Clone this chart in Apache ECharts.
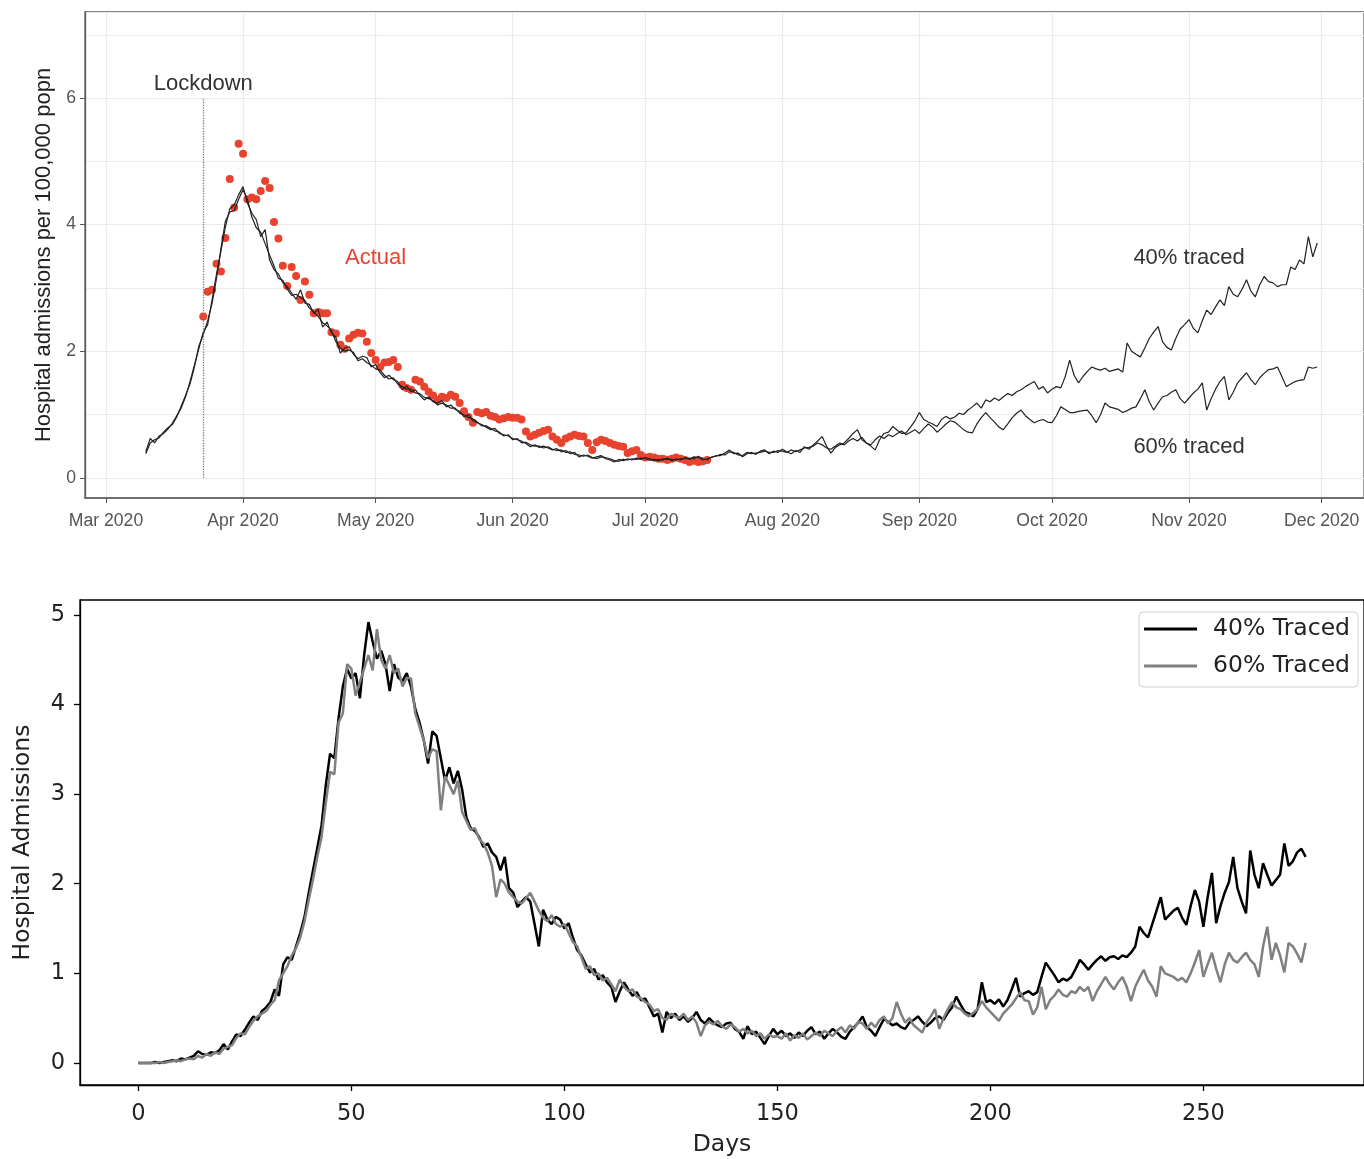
<!DOCTYPE html>
<html>
<head>
<meta charset="utf-8">
<title>Hospital admissions</title>
<script src="https://cdn.jsdelivr.net/npm/echarts@6/dist/echarts.min.js"></script>
<style>
  html, body { margin: 0; padding: 0; background: #fff; }
  #chart { width: 1364px; height: 1159px; }
</style>
</head>
<body>
<div id="chart"></div>
<script>
// ---- top panel: daily values, starting at the given dates (year, month index, day)
var lockdownDate = [2020, 2, 23];
var actualStart = [2020, 2, 23];
var actual = [
  2.55, 2.94, 2.97, 3.38, 3.26, 3.79, 4.72, 4.27, 5.28,
  5.12, 4.40, 4.43, 4.40, 4.53, 4.69, 4.58, 4.04, 3.78, 3.35,
  3.03, 3.33, 3.19, 2.81, 3.10, 2.89, 2.60, 2.62, 2.60, 2.60,
  2.30, 2.28, 2.10, 2.04, 2.20, 2.26, 2.29, 2.28, 2.15, 1.97,
  1.86, 1.75, 1.82, 1.83, 1.86, 1.75, 1.47, 1.42, 1.39, 1.55,
  1.52, 1.44, 1.36, 1.30, 1.23, 1.28, 1.26, 1.31, 1.28, 1.18,
  1.05, 0.96, 0.87, 1.04, 1.02, 1.04, 0.98, 0.96, 0.92, 0.94, 0.96,
  0.95, 0.95, 0.92, 0.73, 0.65, 0.68, 0.71, 0.74, 0.76, 0.65,
  0.60, 0.55, 0.62, 0.65, 0.68, 0.66, 0.65, 0.55, 0.44, 0.56,
  0.60, 0.58, 0.55, 0.52, 0.50, 0.49, 0.39, 0.42, 0.44, 0.36,
  0.32, 0.33, 0.32, 0.30, 0.30, 0.28, 0.30, 0.32, 0.30, 0.28,
  0.25, 0.27, 0.25, 0.26, 0.28
];
var lineStart = [2020, 2, 10];
var traced40 = [
  0.41, 0.62, 0.55, 0.66, 0.70, 0.77, 0.86, 0.98, 1.10, 1.28,
  1.52, 1.78, 2.04, 2.30, 2.42, 2.81, 3.22, 3.58, 3.96, 4.25,
  4.31, 4.47, 4.60, 4.34, 4.18, 4.08, 3.81, 3.92, 3.44, 3.29,
  3.22, 3.08, 3.02, 2.92, 2.82, 2.97, 2.76, 2.74, 2.60, 2.66,
  2.38, 2.46, 2.29, 2.22, 1.97, 2.05, 2.07, 1.95, 1.88, 1.92,
  1.90, 1.75, 1.79, 1.66, 1.58, 1.62, 1.55, 1.52, 1.39, 1.45,
  1.36, 1.39, 1.30, 1.23, 1.28, 1.20, 1.18, 1.22, 1.12, 1.15,
  1.08, 1.05, 0.96, 1.00, 0.90, 0.87, 0.84, 0.80, 0.76, 0.78,
  0.70, 0.68, 0.66, 0.62, 0.60, 0.58, 0.54, 0.49, 0.52, 0.48,
  0.50, 0.47, 0.44, 0.46, 0.41, 0.43, 0.38, 0.40, 0.33, 0.36,
  0.34, 0.31, 0.33, 0.35, 0.30, 0.28, 0.25, 0.29, 0.27, 0.30,
  0.28, 0.31, 0.29, 0.32, 0.30, 0.27, 0.29, 0.28, 0.31, 0.27,
  0.30, 0.28, 0.32, 0.29, 0.33, 0.32, 0.28, 0.30, 0.32, 0.35,
  0.35, 0.39, 0.44, 0.38, 0.39, 0.33, 0.38, 0.40, 0.37, 0.42,
  0.44, 0.38, 0.42, 0.40, 0.45, 0.41, 0.38, 0.43, 0.40, 0.49,
  0.45, 0.52, 0.58, 0.65, 0.50, 0.39, 0.48, 0.52, 0.55, 0.62,
  0.70, 0.76, 0.60, 0.55, 0.50, 0.44, 0.60, 0.70, 0.72, 0.81,
  0.75, 0.70, 0.71, 0.80, 0.90, 1.03, 0.92, 0.88, 0.85, 0.81,
  0.92, 0.97, 0.93, 0.96, 1.02, 1.00, 1.07, 1.12, 1.18, 1.10,
  1.23, 1.20, 1.26, 1.22, 1.28, 1.33, 1.30, 1.36, 1.39, 1.44,
  1.48, 1.52, 1.40, 1.44, 1.34, 1.40, 1.44, 1.42, 1.60, 1.86,
  1.62, 1.50, 1.60, 1.68, 1.75, 1.72, 1.70, 1.73, 1.68, 1.70,
  1.72, 1.67, 2.13, 2.00, 1.95, 1.91, 2.05, 2.20, 2.30, 2.39,
  2.15, 2.06, 2.02, 2.20, 2.35, 2.42, 2.50, 2.36, 2.29, 2.48,
  2.65, 2.58, 2.70, 2.81, 2.72, 3.02, 2.90, 2.86, 2.98, 3.13,
  2.95, 2.86, 3.05, 3.18, 3.10, 3.08, 3.02, 3.05, 3.05, 3.33,
  3.29, 3.44, 3.38, 3.81, 3.49, 3.71
];
var traced60 = [
  0.38, 0.55, 0.60, 0.63, 0.72, 0.79, 0.84, 0.96, 1.13, 1.30,
  1.48, 1.75, 2.08, 2.26, 2.48, 2.76, 3.15, 3.62, 4.05, 4.20,
  4.22, 4.40, 4.55, 4.40, 4.12, 3.95, 3.88, 3.70, 3.52, 3.35,
  3.15, 3.12, 2.98, 2.88, 2.90, 2.85, 2.80, 2.68, 2.62, 2.55,
  2.45, 2.40, 2.33, 2.15, 2.05, 2.00, 2.02, 1.98, 1.85, 1.88,
  1.82, 1.78, 1.72, 1.70, 1.62, 1.56, 1.58, 1.48, 1.44, 1.40,
  1.40, 1.34, 1.33, 1.27, 1.25, 1.22, 1.15, 1.18, 1.15, 1.10,
  1.10, 1.02, 0.99, 0.95, 0.93, 0.88, 0.82, 0.82, 0.78, 0.74,
  0.72, 0.66, 0.68, 0.60, 0.62, 0.55, 0.56, 0.52, 0.50, 0.50,
  0.47, 0.49, 0.45, 0.43, 0.44, 0.40, 0.41, 0.37, 0.36, 0.34,
  0.36, 0.32, 0.30, 0.33, 0.32, 0.30, 0.27, 0.26, 0.29, 0.28,
  0.30, 0.29, 0.31, 0.30, 0.28, 0.29, 0.27, 0.30, 0.29, 0.29,
  0.28, 0.30, 0.30, 0.31, 0.30, 0.34, 0.30, 0.28, 0.33, 0.34,
  0.37, 0.36, 0.41, 0.40, 0.36, 0.35, 0.40, 0.38, 0.39, 0.40,
  0.42, 0.40, 0.40, 0.43, 0.42, 0.40, 0.44, 0.41, 0.44, 0.47,
  0.48, 0.50, 0.55, 0.52, 0.47, 0.45, 0.50, 0.55, 0.52, 0.58,
  0.62, 0.58, 0.64, 0.55, 0.52, 0.60, 0.66, 0.62, 0.68, 0.65,
  0.70, 0.74, 0.68, 0.72, 0.76, 0.70, 0.78, 0.85, 0.80, 0.72,
  0.78, 0.85, 0.90, 0.88, 0.82, 0.76, 0.72, 0.71, 0.85, 0.95,
  1.03, 0.95, 0.88, 0.80, 0.76, 0.85, 0.95, 1.02, 1.07, 0.98,
  0.92, 0.87, 0.90, 0.92, 0.88, 0.87, 0.98, 1.12, 1.08, 1.03,
  1.03, 1.05, 1.06, 1.07, 0.98, 0.87, 1.00, 1.18, 1.12, 1.10,
  1.08, 1.03, 1.06, 1.10, 1.12, 1.25, 1.39, 1.20, 1.07, 1.18,
  1.28, 1.30, 1.35, 1.39, 1.25, 1.18, 1.26, 1.34, 1.40, 1.50,
  1.07, 1.25, 1.40, 1.52, 1.60, 1.23, 1.35, 1.50, 1.58, 1.66,
  1.55, 1.47, 1.58, 1.65, 1.71, 1.72, 1.75, 1.60, 1.44, 1.48,
  1.52, 1.54, 1.55, 1.75, 1.73, 1.75
];
var monthNames = ['Jan', 'Feb', 'Mar', 'Apr', 'May', 'Jun', 'Jul', 'Aug', 'Sep', 'Oct', 'Nov', 'Dec'];
var topYTicks = [0, 2, 4, 6];

// ---- bottom panel: daily values from day 0
var days40 = [
  0.00, 0.00, 0.00, 0.00, 0.01, 0.00, 0.01, 0.02, 0.03, 0.02,
  0.05, 0.04, 0.06, 0.08, 0.13, 0.10, 0.09, 0.12, 0.11, 0.14,
  0.21, 0.15, 0.24, 0.32, 0.30, 0.37, 0.45, 0.52, 0.48, 0.58,
  0.62, 0.68, 0.82, 0.75, 1.10, 1.18, 1.15, 1.30, 1.45, 1.63,
  1.90, 2.15, 2.40, 2.65, 3.10, 3.45, 3.40, 3.85, 4.20, 4.40,
  4.29, 4.35, 4.07, 4.55, 4.92, 4.70, 4.51, 4.60, 4.45, 4.15,
  4.45, 4.30, 4.26, 4.35, 4.20, 3.95, 3.80, 3.60, 3.34, 3.70,
  3.65, 3.40, 3.15, 3.30, 3.12, 3.26, 3.05, 2.74, 2.62, 2.59,
  2.52, 2.41, 2.45, 2.35, 2.30, 2.15, 2.30, 1.95, 1.90, 1.74,
  1.80, 1.85, 1.80, 1.55, 1.30, 1.71, 1.60, 1.55, 1.63, 1.60,
  1.50, 1.56, 1.40, 1.26, 1.20, 1.10, 1.01, 1.05, 0.93, 0.98,
  0.90, 0.85, 0.68, 0.80, 0.90, 0.82, 0.75, 0.79, 0.70, 0.72,
  0.62, 0.52, 0.55, 0.34, 0.57, 0.50, 0.55, 0.48, 0.52, 0.46,
  0.50, 0.57, 0.48, 0.44, 0.50, 0.45, 0.42, 0.40, 0.44, 0.45,
  0.38, 0.35, 0.27, 0.41, 0.32, 0.35, 0.28, 0.21, 0.30, 0.38,
  0.32, 0.36, 0.30, 0.33, 0.28, 0.34, 0.30, 0.36, 0.40, 0.32,
  0.35, 0.27, 0.33, 0.38, 0.34, 0.29, 0.27, 0.35, 0.40, 0.45,
  0.52, 0.40, 0.36, 0.30, 0.40, 0.49, 0.46, 0.42, 0.44, 0.40,
  0.38, 0.45, 0.48, 0.52, 0.46, 0.41, 0.45, 0.50, 0.52, 0.48,
  0.56, 0.62, 0.74, 0.65, 0.57, 0.55, 0.52, 0.60, 0.90, 0.68,
  0.70, 0.66, 0.71, 0.63, 0.70, 0.82, 0.95, 0.74, 0.78, 0.80,
  0.76, 0.79, 0.96, 1.12, 1.05, 0.98, 0.90, 0.94, 0.92, 0.96,
  1.05, 1.15, 1.10, 1.04, 1.10, 1.15, 1.19, 1.14, 1.18, 1.19,
  1.16, 1.20, 1.18, 1.23, 1.30, 1.52, 1.45, 1.40, 1.55, 1.70,
  1.85, 1.60, 1.65, 1.70, 1.73, 1.62, 1.54, 1.75, 1.93, 1.80,
  1.52, 1.85, 2.12, 1.56, 1.75, 1.90, 2.02, 2.30, 1.95, 1.80,
  1.67, 2.37, 2.10, 1.95, 2.23, 2.10, 1.98, 2.04, 2.10, 2.45,
  2.20, 2.25, 2.35, 2.39, 2.30
];
var days60 = [
  0.00, 0.00, 0.00, 0.00, 0.00, 0.01, 0.00, 0.01, 0.02, 0.03,
  0.02, 0.04, 0.05, 0.04, 0.08, 0.06, 0.10, 0.08, 0.12, 0.10,
  0.16, 0.18, 0.20, 0.28, 0.33, 0.32, 0.40, 0.47, 0.52, 0.55,
  0.58, 0.65, 0.70, 0.92, 1.00, 1.08, 1.20, 1.28, 1.40, 1.58,
  1.82, 2.05, 2.30, 2.52, 2.90, 3.25, 3.22, 3.80, 3.90, 4.45,
  4.40, 4.10, 4.25, 4.40, 4.55, 4.38, 4.84, 4.50, 4.40, 4.55,
  4.35, 4.40, 4.20, 4.30, 4.29, 3.90, 3.75, 3.60, 3.40, 3.50,
  3.48, 2.82, 3.20, 3.10, 3.00, 3.15, 2.80, 2.70, 2.60, 2.62,
  2.50, 2.45, 2.35, 2.20, 1.85, 2.05, 2.00, 1.90, 1.85, 1.80,
  1.78, 1.84, 1.90, 1.80, 1.70, 1.62, 1.58, 1.65, 1.55, 1.52,
  1.55, 1.45, 1.35, 1.30, 1.18, 1.05, 1.08, 0.98, 1.00, 0.92,
  0.95, 0.88, 0.80, 0.93, 0.85, 0.80, 0.82, 0.74, 0.72, 0.68,
  0.65, 0.58, 0.60, 0.50, 0.48, 0.55, 0.52, 0.50, 0.55, 0.48,
  0.52, 0.45, 0.30, 0.42, 0.46, 0.43, 0.47, 0.41, 0.38, 0.43,
  0.40, 0.35, 0.38, 0.33, 0.36, 0.30, 0.33, 0.27, 0.32, 0.29,
  0.30, 0.27, 0.33, 0.25, 0.31, 0.28, 0.33, 0.26, 0.30, 0.34,
  0.30, 0.36, 0.33, 0.30, 0.36, 0.40, 0.34, 0.42, 0.38, 0.46,
  0.44, 0.38, 0.45, 0.40, 0.48, 0.52, 0.44, 0.50, 0.68, 0.55,
  0.45, 0.50, 0.42, 0.38, 0.34, 0.45, 0.52, 0.60, 0.38, 0.50,
  0.60, 0.68, 0.62, 0.60, 0.55, 0.52, 0.56, 0.60, 0.69, 0.62,
  0.57, 0.52, 0.47, 0.55, 0.60, 0.65, 0.72, 0.79, 0.70, 0.69,
  0.54, 0.62, 0.85, 0.60, 0.70, 0.75, 0.82, 0.76, 0.74, 0.80,
  0.78, 0.85, 0.80, 0.85, 0.69, 0.80, 0.88, 0.96, 0.88, 0.82,
  0.90, 0.96, 0.85, 0.69, 0.85, 0.95, 1.04, 0.92, 0.85, 0.74,
  1.08, 1.00, 0.98, 0.96, 0.92, 0.95, 0.90, 1.00, 1.12, 1.26,
  0.96, 1.10, 1.23, 1.05, 0.90, 1.10, 1.23, 1.15, 1.12, 1.18,
  1.23, 1.15, 1.10, 0.96, 1.30, 1.52, 1.15, 1.34, 1.20, 1.01,
  1.34, 1.30, 1.22, 1.12, 1.34
];
var dayTicks = [0, 50, 100, 150, 200, 250];
var admTicks = [0, 1, 2, 3, 4, 5];

function dated(start, values) {
  return values.map(function (v, i) {
    return [new Date(start[0], start[1], start[2] + i).getTime(), v];
  });
}
function byDay(values) {
  return values.map(function (v, i) { return [i, v]; });
}

var lockdown = new Date(lockdownDate[0], lockdownDate[1], lockdownDate[2]).getTime();
var topFont = 'Liberation Sans';
var botFont = 'DejaVu Sans';
var topYMin = -0.32, topYMax = 7.36;

function note(text, date, value, color) {
  return {
    symbol: 'rect',
    symbolSize: 1,
    itemStyle: { color: 'transparent' },
    silent: true,
    data: [{ coord: [date, value] }],
    label: {
      show: true,
      position: 'inside',
      formatter: text,
      color: color,
      fontSize: 22,
      fontFamily: topFont
    }
  };
}

var option = {
  animation: false,
  backgroundColor: '#fff',
  textStyle: { fontFamily: topFont },
  grid: [
    { left: 85, top: 12, width: 1279, height: 486, show: true, borderColor: '#5a5a5a', borderWidth: 1.3 },
    { left: 80, top: 600, width: 1291, height: 485, show: true, borderColor: '#000', borderWidth: 1.3 }
  ],
  legend: {
    data: ['40% Traced', '60% Traced'],
    orient: 'vertical',
    right: 6,
    top: 612,
    icon: 'rect',
    itemWidth: 53,
    itemHeight: 3,
    itemGap: 13,
    padding: [5, 8, 9, 5],
    borderColor: '#d0d0d0',
    borderWidth: 1,
    borderRadius: 4,
    backgroundColor: 'rgba(255,255,255,0.8)',
    selectedMode: false,
    textStyle: { fontSize: 23.5, color: '#222', fontFamily: botFont, padding: [0, 0, 0, 11] }
  },
  xAxis: [
    {
      type: 'time',
      gridIndex: 0,
      min: new Date(2020, 1, 25, 6).getTime(),
      max: new Date(2020, 11, 10, 14).getTime(),
      splitNumber: 10,
      axisLine: { onZero: false, lineStyle: { color: '#6e6e6e', width: 2 } },
      axisTick: { show: true, length: 5, lineStyle: { color: '#555' } },
      axisLabel: {
        color: '#555',
        fontSize: 17.6,
        margin: 14,
        formatter: function (val) {
          var d = new Date(val);
          return monthNames[d.getMonth()] + ' ' + d.getFullYear();
        }
      },
      splitLine: { show: true, lineStyle: { color: '#ebebeb', width: 1.2 } }
    },
    {
      type: 'value',
      gridIndex: 1,
      min: -13.7,
      max: 287.7,
      splitNumber: 6,
      axisLine: { onZero: false, lineStyle: { color: '#000', width: 1.3 } },
      axisTick: { customValues: dayTicks, length: 6, lineStyle: { color: '#000', width: 1.3 } },
      axisLabel: { customValues: dayTicks, color: '#222', fontSize: 22.5, fontFamily: botFont, margin: 18 },
      splitLine: { show: false },
      name: 'Days',
      nameLocation: 'middle',
      nameGap: 48,
      nameTextStyle: { fontSize: 23.5, color: '#222', fontFamily: botFont }
    }
  ],
  yAxis: [
    {
      type: 'value',
      gridIndex: 0,
      min: topYMin,
      max: topYMax,
      axisLine: { show: true, onZero: false, lineStyle: { color: '#5a5a5a', width: 1.3 } },
      axisTick: { show: true, customValues: topYTicks, length: 5, lineStyle: { color: '#555' } },
      axisLabel: { customValues: topYTicks, color: '#555', fontSize: 17.6, margin: 9 },
      splitLine: { show: false },
      name: 'Hospital admissions per 100,000 popn',
      nameLocation: 'middle',
      nameGap: 27,
      nameTextStyle: { fontSize: 22, color: '#222' }
    },
    {
      type: 'value',
      gridIndex: 1,
      min: -0.246,
      max: 5.166,
      axisLine: { show: true, onZero: false, lineStyle: { color: '#000', width: 1.3 } },
      axisTick: { show: true, customValues: admTicks, length: 6, lineStyle: { color: '#000', width: 1.3 } },
      axisLabel: { customValues: admTicks, color: '#222', fontSize: 22.5, fontFamily: botFont, margin: 15 },
      splitLine: { show: false },
      name: 'Hospital Admissions',
      nameLocation: 'middle',
      nameGap: 45,
      nameTextStyle: { fontSize: 23.5, color: '#222', fontFamily: botFont }
    },
    {
      // unit grid lines of the top panel (major and minor)
      type: 'value',
      gridIndex: 0,
      min: topYMin,
      max: topYMax,
      splitNumber: 8,
      axisLine: { show: false },
      axisTick: { show: false },
      axisLabel: { show: false },
      splitLine: { show: true, lineStyle: { color: '#ebebeb', width: 1.2 } }
    }
  ],
  series: [
    {
      name: 'Actual',
      type: 'scatter',
      xAxisIndex: 0,
      yAxisIndex: 0,
      symbolSize: 8,
      itemStyle: { color: '#e8432e', opacity: 1 },
      data: dated(actualStart, actual),
      markPoint: note('Actual', new Date(2020, 4, 1).getTime(), 3.47, '#e8432e')
    },
    {
      name: '60% traced',
      type: 'line',
      xAxisIndex: 0,
      yAxisIndex: 0,
      showSymbol: false,
      lineStyle: { color: '#222', width: 1.2 },
      data: dated(lineStart, traced60),
      markPoint: note('60% traced', new Date(2020, 10, 1).getTime(), 0.49, '#333'),
      markLine: {
        silent: true,
        symbol: 'none',
        lineStyle: { type: 'dotted', color: '#777', width: 1.3 },
        label: { show: true, position: 'end', formatter: 'Lockdown', color: '#333', fontSize: 22, distance: 3 },
        data: [[{ coord: [lockdown, 0] }, { coord: [lockdown, 6] }]]
      }
    },
    {
      name: '40% traced',
      type: 'line',
      xAxisIndex: 0,
      yAxisIndex: 0,
      showSymbol: false,
      lineStyle: { color: '#222', width: 1.2 },
      data: dated(lineStart, traced40),
      markPoint: note('40% traced', new Date(2020, 10, 1).getTime(), 3.47, '#333')
    },
    {
      name: '40% Traced',
      type: 'line',
      xAxisIndex: 1,
      yAxisIndex: 1,
      showSymbol: false,
      color: '#000',
      lineStyle: { color: '#000', width: 2.5 },
      data: byDay(days40)
    },
    {
      name: '60% Traced',
      type: 'line',
      xAxisIndex: 1,
      yAxisIndex: 1,
      showSymbol: false,
      color: '#808080',
      lineStyle: { color: '#808080', width: 2.5 },
      data: byDay(days60)
    }
  ]
};

var chart = echarts.init(document.getElementById('chart'));
chart.setOption(option);
</script>
</body>
</html>
